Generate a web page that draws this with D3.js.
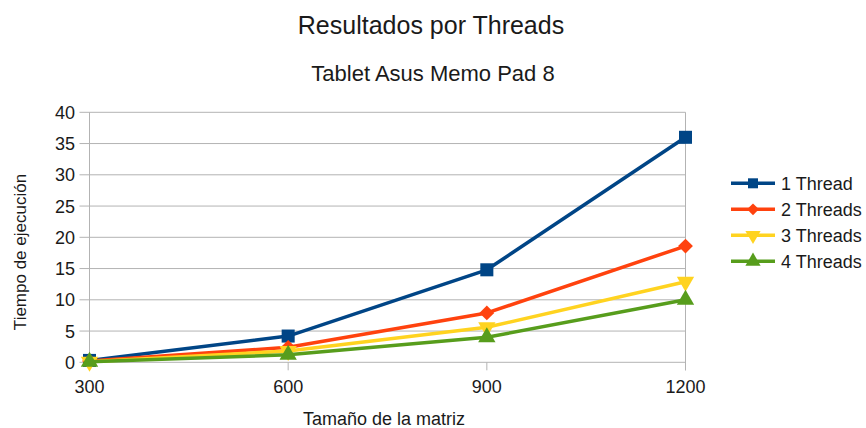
<!DOCTYPE html>
<html>
<head>
<meta charset="utf-8">
<script src="https://cdn.jsdelivr.net/npm/d3@7"></script>
<style>
  body { margin: 0; background: #fff; }
  text { font-family: "Liberation Sans", Arial, sans-serif; fill: #1a1a1a; }
</style>
</head>
<body>
<svg id="chart"></svg>
<script>
// Chart data.
var sizes = ["300", "600", "900", "1200"];
var seriesNames = ["1 Thread", "2 Threads", "3 Threads", "4 Threads"];
var thread1 = [0.3, 4.2, 14.8, 36.0];
var thread2 = [0.2, 2.4, 7.9, 18.6];
var thread3 = [0.1, 1.8, 5.6, 12.9];
var thread4 = [0.1, 1.2, 4.0, 10.0];
var yTicks = [0, 5, 10, 15, 20, 25, 30, 35, 40];

var colors = ["#004586", "#ff420e", "#ffd320", "#579d1c"];
// marker shape + rotation for each series
var symbols = [d3.symbolSquare, d3.symbolSquare, d3.symbolTriangle, d3.symbolTriangle];
var rotations = [0, 45, 180, 0];
var series = [thread1, thread2, thread3, thread4];

var width = 866, height = 428;
var svg = d3.select("#chart").attr("width", width).attr("height", height);

// plot area edges
var pLeft = 89.5, pRight = 685.5, pTop = 112.3, pBottom = 362.3;

var x = d3.scalePoint().domain(sizes).range([pLeft, pRight]);
var y = d3.scaleLinear().domain([0, 40]).range([pBottom, pTop]);

// Horizontal grid lines and left ticks
svg.selectAll(".grid")
  .data(yTicks)
  .enter().append("line")
  .attr("x1", pLeft - 10).attr("x2", pRight)
  .attr("y1", function(d){ return y(d); })
  .attr("y2", function(d){ return y(d); })
  .attr("stroke", "#b3b3b3").attr("stroke-width", 1);

// Left axis line and right edge at 1200
[pLeft, pRight].forEach(function(px){
  svg.append("line")
    .attr("x1", px).attr("x2", px)
    .attr("y1", pTop).attr("y2", pBottom + 8)
    .attr("stroke", "#b3b3b3");
});

// Bottom ticks
svg.selectAll(".xtick")
  .data(sizes)
  .enter().append("line")
  .attr("x1", function(d){ return x(d); })
  .attr("x2", function(d){ return x(d); })
  .attr("y1", pBottom).attr("y2", pBottom + 8)
  .attr("stroke", "#b3b3b3");

// Y tick labels
svg.selectAll(".ylab")
  .data(yTicks)
  .enter().append("text")
  .attr("x", 75)
  .attr("y", function(d){ return y(d) + 6.5; })
  .attr("text-anchor", "end")
  .style("font-size", "18px")
  .text(function(d){ return d; });

// X tick labels
svg.selectAll(".xlab")
  .data(sizes)
  .enter().append("text")
  .attr("x", function(d){ return x(d); })
  .attr("y", 393)
  .attr("text-anchor", "middle")
  .style("font-size", "18px")
  .text(function(d){ return d; });

function marker(i, size) {
  return d3.symbol().type(symbols[i]).size(size)();
}
var markerSizes = [170, 110, 130, 130];

var line = d3.line()
  .x(function(d, i){ return x(sizes[i]); })
  .y(function(d){ return y(d); });

series.forEach(function(vals, s){
  svg.append("path")
    .datum(vals)
    .attr("d", line)
    .attr("fill", "none")
    .attr("stroke", colors[s])
    .attr("stroke-width", 3.5)
    .attr("stroke-linejoin", "round");

  svg.selectAll(".m" + s)
    .data(vals)
    .enter().append("path")
    .attr("d", marker(s, markerSizes[s]))
    .attr("transform", function(d, i){
      return "translate(" + x(sizes[i]) + "," + y(d) + ") rotate(" + rotations[s] + ")";
    })
    .attr("fill", colors[s]);
});

// Legend
var legend = svg.selectAll(".legend")
  .data(seriesNames)
  .enter().append("g")
  .attr("transform", function(d, i){ return "translate(731," + (183.3 + i * 26) + ")"; });

legend.append("line")
  .attr("x1", 0).attr("x2", 44)
  .attr("stroke", function(d, i){ return colors[i]; })
  .attr("stroke-width", 3.5);

legend.append("path")
  .attr("d", function(d, i){ return marker(i, i === 1 ? 70 : 100); })
  .attr("transform", function(d, i){ return "translate(22,0) rotate(" + rotations[i] + ")"; })
  .attr("fill", function(d, i){ return colors[i]; });

legend.append("text")
  .attr("x", 50)
  .attr("y", 6.5)
  .style("font-size", "18px")
  .text(function(d){ return d; });

// Titles
svg.append("text")
  .attr("x", 431).attr("y", 34)
  .attr("text-anchor", "middle")
  .style("font-size", "25px")
  .text("Resultados por Threads");

svg.append("text")
  .attr("x", 433).attr("y", 81)
  .attr("text-anchor", "middle")
  .style("font-size", "22px")
  .text("Tablet Asus Memo Pad 8");

svg.append("text")
  .attr("x", 384).attr("y", 425)
  .attr("text-anchor", "middle")
  .style("font-size", "18px")
  .text("Tamaño de la matriz");

svg.append("text")
  .attr("transform", "translate(26,252) rotate(-90)")
  .attr("text-anchor", "middle")
  .style("font-size", "17px")
  .text("Tiempo de ejecución");
</script>
</body>
</html>
